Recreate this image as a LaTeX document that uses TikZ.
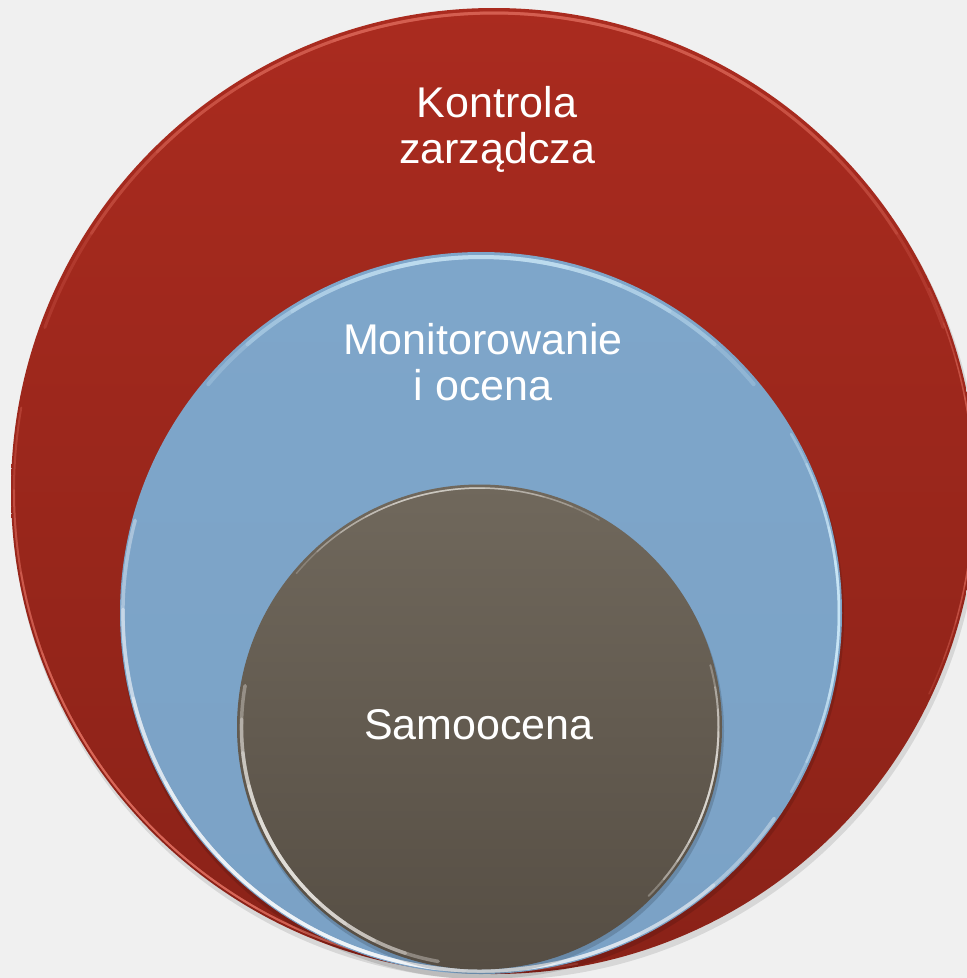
\documentclass[tikz,border=0pt]{standalone}
\usepackage{fontspec}
\setmainfont{Liberation Sans}
\definecolor{bgc}{HTML}{F0F0F0}
\definecolor{redtop}{HTML}{AA2B1F}
\definecolor{redbot}{HTML}{8A2218}
\definecolor{redrim}{HTML}{E87566}
\definecolor{bluetop}{HTML}{7EA6CA}
\definecolor{bluebot}{HTML}{7BA2C6}
\definecolor{bluerim}{HTML}{D8F2FF}
\definecolor{graytop}{HTML}{70685C}
\definecolor{graybot}{HTML}{564E44}
\definecolor{grayrim}{HTML}{F2EFEA}
\tikzset{
  ring/.style={circle, inner sep=0pt, outer sep=0pt},
  lbl/.style={text=white, align=center, font=\fontsize{43}{46}\selectfont, inner sep=0pt},
}
% fading rim: #1 centre, #2 radius, #3 mid angle, #4 half span, #5 colour, #6 width, #7 opacity per layer
\newcommand{\rimarc}[7]{%
  \foreach \k in {0,1,2,3,4}{%
    \pgfmathsetmacro{\hs}{#4*(1-0.18*\k)}%
    \draw[#5, line width=#6, opacity=#7, line cap=round]
      (#1) ++({#3-\hs}:#2) arc[start angle={#3-\hs}, end angle={#3+\hs}, radius=#2];
  }%
}
\begin{document}
\begin{tikzpicture}[x=1pt,y=-1pt]
\useasboundingbox (0,0) rectangle (967,978);
\fill[bgc] (0,0) rectangle (967,978);
\clip (0,0) rectangle (967,978);
% red circle
\fill[black, opacity=0.10] (496,496) circle (484pt);
\node[ring, minimum size=966pt, top color=redtop, bottom color=redbot] (kz) at (494,491) {};
\coordinate (ckz) at (494,491);
\rimarc{ckz}{478pt}{90}{70}{redrim}{3pt}{0.22}
\rimarc{ckz}{480pt}{225}{55}{redrim}{2pt}{0.3}
\rimarc{ckz}{480pt}{0}{25}{redrim}{1.5pt}{0.22}
% blue circle
\fill[black, opacity=0.12] (482,617) circle (362pt);
\node[ring, minimum size=722pt, top color=bluetop, bottom color=bluebot] (mo) at (481,613) {};
\coordinate (cmo) at (481,613);
\rimarc{cmo}{356pt}{90}{50}{bluerim}{4pt}{0.22}
\rimarc{cmo}{358pt}{245}{80}{white}{3.5pt}{0.35}
\rimarc{cmo}{358pt}{0}{30}{bluerim}{2.5pt}{0.3}
% gray circle
\fill[black, opacity=0.15] (481,731) circle (243pt);
\node[ring, minimum size=485pt, top color=graytop, bottom color=graybot] (sa) at (479.5,727) {};
\coordinate (csa) at (479.5,727);
\rimarc{csa}{238pt}{215}{45}{grayrim}{3.5pt}{0.35}
\rimarc{csa}{239pt}{345}{30}{grayrim}{2pt}{0.3}
\rimarc{csa}{239pt}{100}{40}{grayrim}{1.5pt}{0.22}
% labels
\node[lbl] (tkz) at (497,129) {Kontrola\\zarządcza};
\node[lbl] (tmo) at (483,362) {Monitorowanie\\i ocena};
\node[lbl] (tsa) at (479,725) {Samoocena};
\end{tikzpicture}
\end{document}
